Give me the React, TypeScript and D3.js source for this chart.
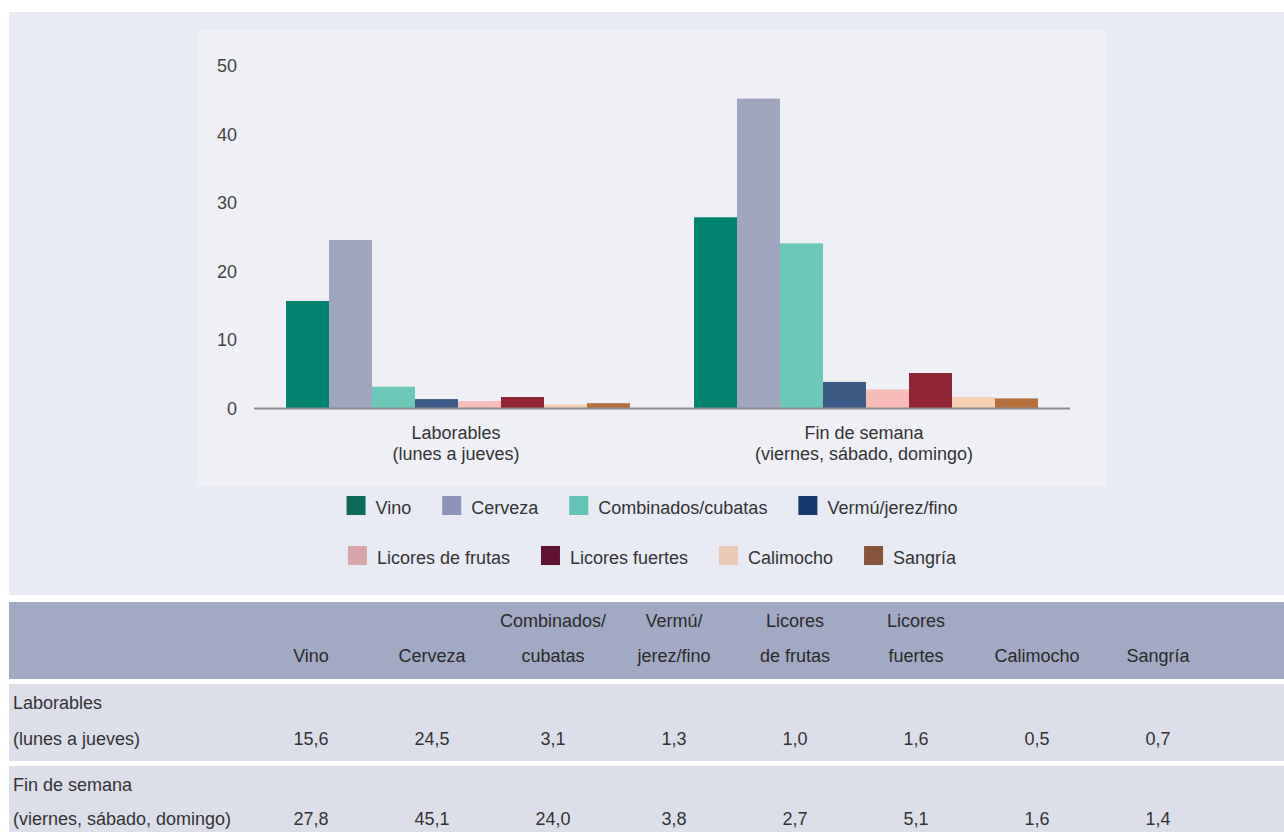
import React from "react";
import * as d3 from "d3";

const groups = ["Laborables|(lunes a jueves)", "Fin de semana|(viernes, sábado, domingo)"];
const drinks = ["Vino", "Cerveza", "Combinados/cubatas", "Vermú/jerez/fino", "Licores de frutas", "Licores fuertes", "Calimocho", "Sangría"];
const laborables = [15.6, 24.5, 3.1, 1.3, 1.0, 1.6, 0.5, 0.7];
const finDeSemana = [27.8, 45.1, 24.0, 3.8, 2.7, 5.1, 1.6, 1.4];
const barColors = ["#00846f", "#a0a5c0", "#6cc8b9", "#3b5a86", "#f8bcb8", "#8f2535", "#f6d0b2", "#b3703b"];
const legendColors = ["#0b6b58", "#8c94b9", "#62c3b6", "#13386b", "#d9a5aa", "#5f1330", "#ecc9b2", "#88553a"];
const yTicks = [0, 10, 20, 30, 40, 50];
const headerLine1 = ["", "", "Combinados/", "Vermú/", "Licores", "Licores", "", ""];
const headerLine2 = ["Vino", "Cerveza", "cubatas", "jerez/fino", "de frutas", "fuertes", "Calimocho", "Sangría"];
const rowLabels1 = ["Laborables", "Fin de semana"];
const rowLabels2 = ["(lunes a jueves)", "(viernes, sábado, domingo)"];
const fmt = (v: number) => v.toFixed(1).replace(".", ",");

const FONT = "'Liberation Sans', Arial, Helvetica, sans-serif";
const FS = 18;

function measure(text: string): number {
  const c = document.createElement("canvas").getContext("2d");
  if (!c) return text.length * 9;
  c.font = `${FS}px ${FONT}`;
  return c.measureText(text).width;
}

export default function App() {
  const series = [laborables, finDeSemana];
  const x0 = d3.scaleBand().domain(groups).range([254, 1070]).paddingInner(0.157).paddingOuter(0.0785);
  const x1 = d3.scaleBand().domain(drinks).range([0, x0.bandwidth()]);
  const y = d3.scaleLinear().domain([0, 50]).range([408, 65]);
  const col = d3.scaleBand().domain(headerLine2).range([250.5, 1218.5]);

  // legend layout
  const rows = [drinks.slice(0, 4), drinks.slice(4)];
  const sw = 19, gapT = 10, gapI = 31, center = 652;
  const legendRows = rows.map((items) => {
    const widths = items.map((t) => sw + gapT + measure(t));
    const total = d3.sum(widths) + gapI * (items.length - 1);
    let cx = center - total / 2;
    return items.map((t, i) => {
      const pos = cx;
      cx += widths[i] + gapI;
      return { t, x: pos, color: legendColors[drinks.indexOf(t)] };
    });
  });
  const legendY = [505, 555];

  return (
    <svg width={1284} height={832} style={{ position: "absolute", left: 0, top: 0 }} fontFamily={FONT} fontSize={FS}>
      <rect x={0} y={0} width={1284} height={832} fill="#ffffff" />
      <rect x={9} y={12} width={1275} height={583} fill="#e8ebf3" />
      <rect x={197} y={30} width={909} height={456} fill="#eef0f5" />
      {yTicks.map((t) => (
        <text key={t} x={237} y={y(t) + 1} textAnchor="end" dominantBaseline="central" fill="#444">
          {t}
        </text>
      ))}
      {groups.map((g, gi) => (
        <g key={g} transform={`translate(${x0(g)},0)`}>
          {drinks.map((d, di) => (
            <rect
              key={d}
              x={x1(d)}
              y={y(series[gi][di])}
              width={x1.bandwidth()}
              height={y(0) - y(series[gi][di])}
              fill={barColors[di]}
            />
          ))}
        </g>
      ))}
      <line x1={254} x2={1070} y1={408.5} y2={408.5} stroke="#8c8c8c" strokeWidth={2} />
      {groups.map((g) => {
        const [a, b] = g.split("|");
        const cx = (x0(g) as number) + x0.bandwidth() / 2 - 2;
        return (
          <text key={g} x={cx} textAnchor="middle" fill="#333">
            <tspan x={cx} y={439}>{a}</tspan>
            <tspan x={cx} y={460}>{b}</tspan>
          </text>
        );
      })}
      {legendRows.map((row, ri) =>
        row.map((it) => (
          <g key={it.t}>
            <rect x={it.x} y={legendY[ri] - 9} width={sw} height={sw} fill={it.color} />
            <text x={it.x + sw + gapT} y={legendY[ri] + 3} dominantBaseline="central" fill="#333">
              {it.t}
            </text>
          </g>
        ))
      )}
      <rect x={9} y={602} width={1275} height={77} fill="#a2a9c5" />
      <rect x={9} y={684} width={1275} height={77} fill="#dcdeea" />
      <rect x={9} y={766} width={1275} height={66} fill="#dcdeea" />
      {headerLine2.map((h, i) => {
        const cx = (col(h) as number) + col.bandwidth() / 2;
        return (
          <g key={h}>
            {headerLine1[i] && (
              <text x={cx} y={621} textAnchor="middle" dominantBaseline="central" fill="#2a2a2a">
                {headerLine1[i]}
              </text>
            )}
            <text x={cx} y={656} textAnchor="middle" dominantBaseline="central" fill="#2a2a2a">
              {h}
            </text>
            <text x={cx} y={739} textAnchor="middle" dominantBaseline="central" fill="#333">
              {fmt(laborables[i])}
            </text>
            <text x={cx} y={819} textAnchor="middle" dominantBaseline="central" fill="#333">
              {fmt(finDeSemana[i])}
            </text>
          </g>
        );
      })}
      {rowLabels1.map((l, i) => (
        <g key={l}>
          <text x={13} y={i === 0 ? 703 : 785} dominantBaseline="central" fill="#333">{l}</text>
          <text x={13} y={i === 0 ? 739 : 819} dominantBaseline="central" fill="#333">{rowLabels2[i]}</text>
        </g>
      ))}
    </svg>
  );
}
